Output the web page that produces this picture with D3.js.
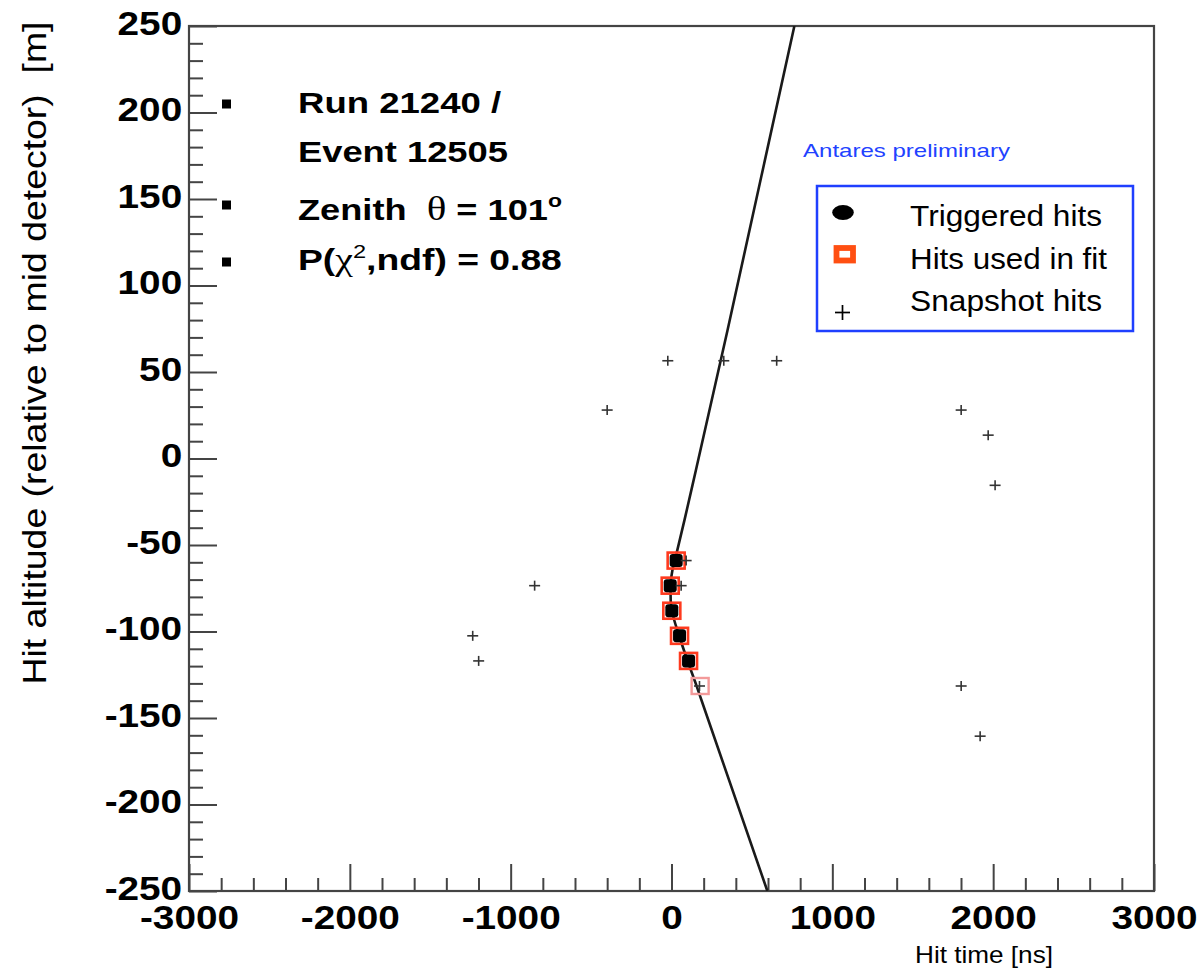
<!DOCTYPE html>
<html>
<head>
<meta charset="utf-8">
<script src="https://cdn.jsdelivr.net/npm/d3@7"></script>
<style>
  body { margin: 0; background: #fff; }
  svg { display: block; }
  text { white-space: pre; }
</style>
</head>
<body>
<svg id="chart" width="1202" height="970"></svg>
<script>
// ---------------- data ----------------
const xMajorTicks = [-3000, -2000, -1000, 0, 1000, 2000, 3000];
const xTickLabels = ["-3000", "-2000", "-1000", "0", "1000", "2000", "3000"];
const yMajorTicks = [-250, -200, -150, -100, -50, 0, 50, 100, 150, 200, 250];
const yTickLabels = ["-250", "-200", "-150", "-100", "-50", "0", "50", "100", "150", "200", "250"];

// hit time [ns], altitude [m]
const triggeredHits = [[29, -59], [-8, -73.5], [2, -88], [50, -102.5], [106, -117]];
const fitHits = [[29, -59], [-8, -73.5], [2, -88], [50, -102.5], [106, -117]];
const fitHitsUntriggered = [[178, -131.5]];
const snapshotHits = [
  [-23, 56.5], [325, 56.5], [654, 56.5],
  [-400, 28], [1801, 28], [1969, 13.5], [2012, -15.5],
  [-851, -73.5], [-1236, -102.5], [-1199, -117],
  [1801, -131.5], [1919, -160.5],
  [91, -59], [60, -73.5], [174, -131.5]
];
// reconstructed track (time vs altitude)
const fitTrack = [
  [764, 250], [348, 74], [152, -6.6], [81, -35.5], [31, -55], [6, -64.5],
  [-6, -74], [-5, -82], [4, -88.5], [48, -102.6], [100, -117], [158, -132],
  [186, -139.6], [596, -250]
];
const legendLabels = ["Triggered hits", "Hits used in fit", "Snapshot hits"];
const xTitle = "Hit time [ns]";
const yTitle = "Hit altitude (relative to mid detector)  [m]";
const watermark = "Antares preliminary";

// ---------------- setup ----------------
const svg = d3.select("#chart");
const x = d3.scaleLinear().domain([-3000, 3000]).range([189, 1154]);
const y = d3.scaleLinear().domain([-250, 250]).range([891, 26]);
const SANS = "'Liberation Sans', Arial, Helvetica, sans-serif";
const SERIF = "'Liberation Serif', 'DejaVu Serif', serif";

svg.append("rect").attr("width", 1202).attr("height", 970).attr("fill", "#fff");

// stretch a group horizontally so that its content spans `target` px
function fitWidth(g, tx, ty, target) {
  const w = g.node().getBBox().width;
  g.attr("transform", `translate(${tx},${ty}) scale(${target / w},1)`);
}

// ---------------- axes ----------------
const xMinor = d3.range(-3000, 3001, 200).filter(v => v % 1000 !== 0);
const yMinor = d3.range(-250, 251, 10).filter(v => v % 50 !== 0);

function styleAxis(g) {
  g.select(".domain").remove();
  g.selectAll(".tick line").attr("stroke", "#444").attr("stroke-width", 2);
  g.selectAll(".tick text")
    .attr("font-family", SANS).attr("font-weight", "bold")
    .attr("font-size", 34).attr("fill", "#000");
}

svg.append("g").attr("transform", "translate(0,891)")
  .call(d3.axisBottom(x).tickValues(xMinor).tickSize(-13).tickFormat(""))
  .call(styleAxis);
svg.append("g").attr("transform", "translate(0,891)")
  .call(d3.axisBottom(x).tickValues(xMajorTicks).tickSize(-27).tickPadding(14)
    .tickFormat((d, i) => xTickLabels[i]))
  .call(styleAxis)
  .call(g => g.selectAll(".tick text").attr("transform", "scale(1.14,1)"));

svg.append("g").attr("transform", "translate(189,0)")
  .call(d3.axisLeft(y).tickValues(yMinor).tickSize(-14).tickFormat(""))
  .call(styleAxis);
svg.append("g").attr("transform", "translate(189,0)")
  .call(d3.axisLeft(y).tickValues(yMajorTicks).tickSize(-28).tickPadding(6)
    .tickFormat((d, i) => yTickLabels[i]))
  .call(styleAxis)
  .call(g => g.selectAll(".tick text").attr("dy", "0.24em").attr("transform", "scale(1.14,1)"));

// frame
svg.append("rect")
  .attr("x", x(-3000)).attr("y", y(250))
  .attr("width", x(3000) - x(-3000)).attr("height", y(-250) - y(250))
  .attr("fill", "none").attr("stroke", "#444").attr("stroke-width", 2.2);

// axis titles
svg.append("text")
  .attr("transform", "translate(46,353) rotate(-90)")
  .attr("text-anchor", "middle")
  .attr("font-family", SANS).attr("font-size", 33)
  .attr("textLength", 663).attr("lengthAdjust", "spacingAndGlyphs")
  .text(yTitle);

svg.append("text")
  .attr("x", 915).attr("y", 963)
  .attr("font-family", SANS).attr("font-size", 24)
  .attr("textLength", 138).attr("lengthAdjust", "spacingAndGlyphs")
  .text(xTitle);

// ---------------- plot content ----------------
svg.append("clipPath").attr("id", "plotClip")
  .append("rect")
  .attr("x", x(-3000)).attr("y", y(250))
  .attr("width", x(3000) - x(-3000)).attr("height", y(-250) - y(250));

const plot = svg.append("g").attr("clip-path", "url(#plotClip)");

const track = d3.line()
  .x(d => x(d[0])).y(d => y(d[1]))
  .curve(d3.curveMonotoneY);

plot.append("path")
  .datum(fitTrack)
  .attr("d", track)
  .attr("fill", "none").attr("stroke", "#1a1a1a").attr("stroke-width", 2.6);

// hits used in the fit
plot.selectAll(".fit").data(fitHits).join("rect")
  .attr("class", "fit")
  .attr("x", d => x(d[0]) - 8.5).attr("y", d => y(d[1]) - 8)
  .attr("width", 17).attr("height", 16)
  .attr("fill", "none").attr("stroke", "#ff3a1e").attr("stroke-width", 2.6);

plot.selectAll(".fitx").data(fitHitsUntriggered).join("rect")
  .attr("class", "fitx")
  .attr("x", d => x(d[0]) - 8.5).attr("y", d => y(d[1]) - 8)
  .attr("width", 17).attr("height", 16)
  .attr("fill", "none").attr("stroke", "#f39a9a").attr("stroke-width", 2.4);

// triggered hits
plot.selectAll(".trig").data(triggeredHits).join("rect")
  .attr("class", "trig")
  .attr("x", d => x(d[0]) - 6.5).attr("y", d => y(d[1]) - 6.5)
  .attr("width", 13).attr("height", 13).attr("rx", 3)
  .attr("fill", "#000");

// snapshot hits
const cross = plot.selectAll(".snap").data(snapshotHits).join("g")
  .attr("class", "snap")
  .attr("transform", d => `translate(${x(d[0])},${y(d[1])})`)
  .attr("stroke", "#333").attr("stroke-width", 1.6);
cross.append("line").attr("x1", -5.5).attr("x2", 5.5);
cross.append("line").attr("y1", -5).attr("y2", 5);

// ---------------- annotations ----------------
svg.append("text")
  .attr("x", 803).attr("y", 157)
  .attr("font-family", SANS).attr("font-size", 19).attr("fill", "#2242ff")
  .attr("textLength", 207).attr("lengthAdjust", "spacingAndGlyphs")
  .text(watermark);

// event information block
const bulletY = [104, 205, 262];
svg.selectAll(".bullet").data(bulletY).join("rect")
  .attr("class", "bullet")
  .attr("x", 222).attr("y", d => d - 4.5)
  .attr("width", 9).attr("height", 9).attr("fill", "#000");

function infoLine(baseline, target, build) {
  const g = svg.append("g");
  const t = g.append("text")
    .attr("font-family", SANS).attr("font-weight", "bold")
    .attr("font-size", 30).attr("fill", "#000");
  build(t);
  fitWidth(g, 298, baseline, target);
}
infoLine(113, 204, t => t.text("Run 21240 /"));
infoLine(162, 210, t => t.text("Event 12505"));
infoLine(220, 264, t => {
  t.append("tspan").text("Zenith  ");
  t.append("tspan").attr("font-family", SERIF).attr("font-weight", "normal")
    .attr("font-size", 34).text("θ");
  t.append("tspan").text(" = 101");
  t.append("tspan").attr("font-size", 19).attr("dy", -13).text("o");
});
infoLine(270, 264, t => {
  t.append("tspan").text("P(");
  t.append("tspan").attr("font-family", SERIF).attr("font-weight", "normal")
    .attr("font-size", 32).text("χ");
  t.append("tspan").attr("font-weight", "normal").attr("font-size", 19)
    .attr("dy", -12).text("2");
  t.append("tspan").attr("dy", 12).text(",ndf) = 0.88");
});

// ---------------- legend ----------------
const legend = svg.append("g");
legend.append("rect")
  .attr("x", 817).attr("y", 186).attr("width", 316).attr("height", 145)
  .attr("fill", "#fff").attr("stroke", "#1f3fff").attr("stroke-width", 2.5);

legend.append("ellipse")
  .attr("cx", 843).attr("cy", 212.5).attr("rx", 10.8).attr("ry", 7.6)
  .attr("fill", "#000");
legend.append("rect")
  .attr("x", 836.5).attr("y", 248).attr("width", 16.5).attr("height", 12.5)
  .attr("fill", "#fff").attr("stroke", "#ff4f12").attr("stroke-width", 5.8);
legend.append("line").attr("x1", 835).attr("x2", 850).attr("y1", 312.5).attr("y2", 312.5)
  .attr("stroke", "#000").attr("stroke-width", 1.7);
legend.append("line").attr("x1", 842.5).attr("x2", 842.5).attr("y1", 305).attr("y2", 320)
  .attr("stroke", "#000").attr("stroke-width", 1.7);

const legendBase = [226, 269, 311];
const legendWidth = [192, 197, 192];
legend.selectAll(".ltext").data(legendLabels).join("text")
  .attr("class", "ltext")
  .attr("x", 910).attr("y", (d, i) => legendBase[i])
  .attr("font-family", SANS).attr("font-size", 29).attr("fill", "#000")
  .attr("textLength", (d, i) => legendWidth[i]).attr("lengthAdjust", "spacingAndGlyphs")
  .text(d => d);
</script>
</body>
</html>
